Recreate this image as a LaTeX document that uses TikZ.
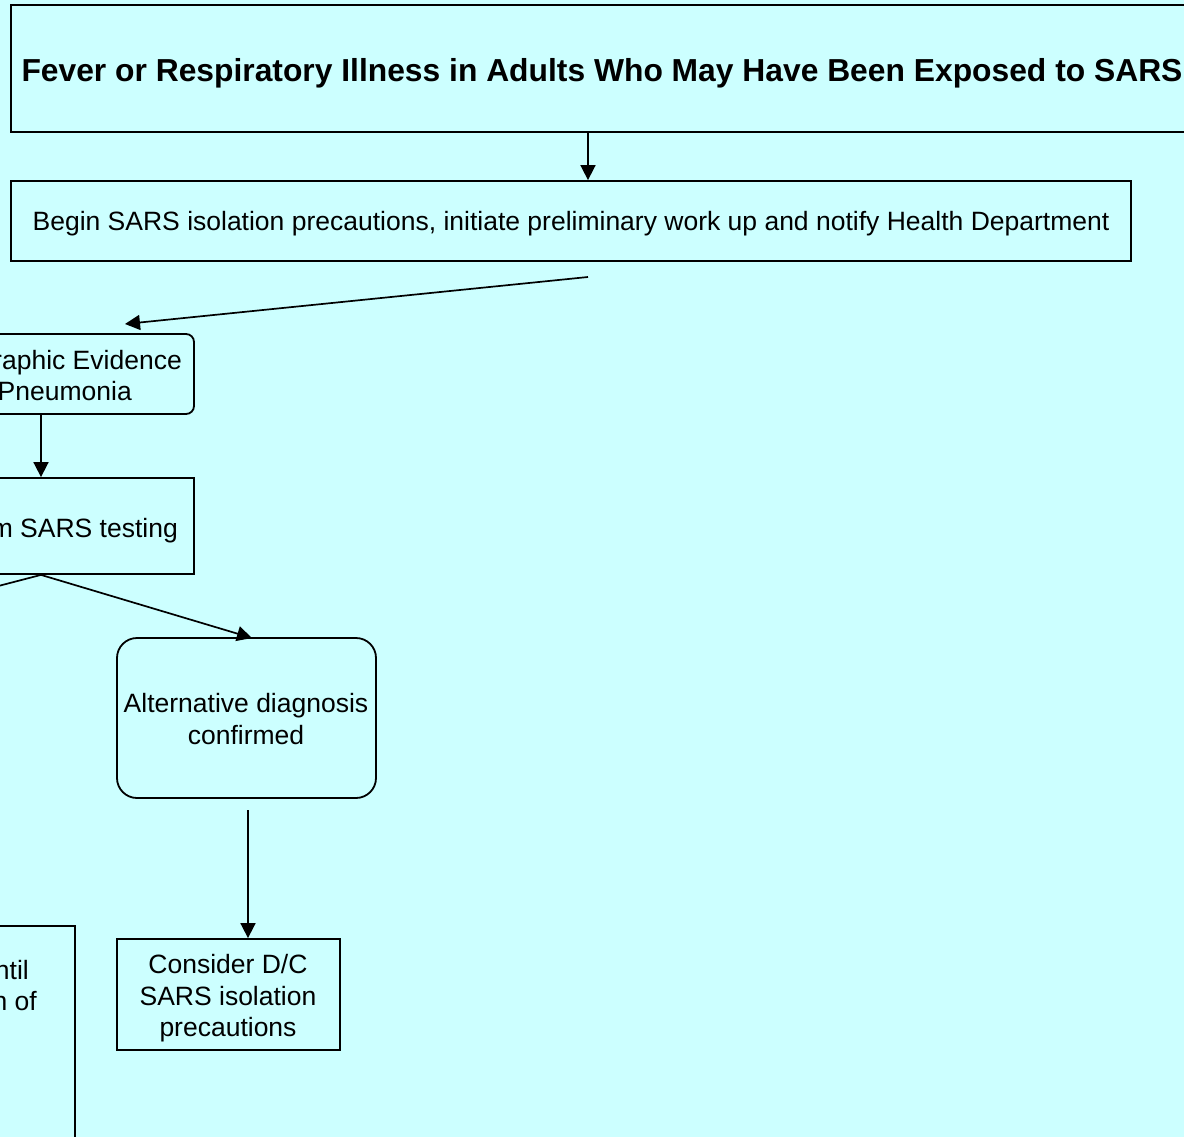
\documentclass[tikz,border=0pt]{standalone}
\usepackage{fontspec}
\setmainfont{Liberation Sans}
\usetikzlibrary{arrows.meta,calc}
\definecolor{bgcyan}{RGB}{204,255,255}
\tikzset{
  box/.style={draw=black,line width=1.8pt,rectangle,inner sep=0pt},
  rbox/.style={box,rounded corners=#1},
  txt/.style={inner sep=0pt,font=\fontsize{26.5}{31}\selectfont},
  arr/.style={line width=1.7pt,-{Triangle[length=15pt,width=15pt]}},
  conn/.style={line width=1.7pt},
}
\begin{document}
\begin{tikzpicture}[x=1pt,y=-1pt]
\fill[bgcyan] (0,0) rectangle (1184,1137);
\useasboundingbox (0,0) rectangle (1184,1137);
\clip (0,0) rectangle (1184,1137);
% boxes
\node[box,minimum width=1182pt,minimum height=127pt] (b1) at (602,68.5) {};
\node[box,minimum width=1120pt,minimum height=80pt] (b2) at (571,221) {};
\node[rbox=8pt,minimum width=306pt,minimum height=80pt] (b3) at (41,374) {};
\node[box,minimum width=306pt,minimum height=96pt] (b4) at (41,526) {};
\node[rbox=20pt,minimum width=259pt,minimum height=160pt] (b5) at (246.5,718) {};
\node[box,minimum width=223pt,minimum height=111pt] (b6) at (228.5,994.5) {};
\node[box,minimum width=275pt,minimum height=300pt] (b7) at (-62.5,1076) {};
% texts
\node[txt,anchor=base,font=\bfseries\fontsize{31.8}{36}\selectfont] (t1) at (602,81.5) {Fever or Respiratory Illness in Adults Who May Have Been Exposed to SARS};
\node[txt,anchor=base] (t2) at (571,230) {Begin SARS isolation precautions, initiate preliminary work up and notify Health Department};
\node[txt,anchor=base east] (t3a) at (182,369) {raphic Evidence};
\node[txt,anchor=base east] (t3b) at (132,400) {Pneumonia};
\node[txt,anchor=base east] (t4) at (178,537) {m SARS testing};
\node[txt,anchor=base] (t5a) at (246,712) {Alternative diagnosis};
\node[txt,anchor=base] (t5b) at (246,744) {confirmed};
\node[txt,anchor=base] (t6a) at (228,973) {Consider D/C};
\node[txt,anchor=base] (t6b) at (228,1005) {SARS isolation};
\node[txt,anchor=base] (t6c) at (228,1036) {precautions};
\node[txt,anchor=base east] (t7a) at (29,979) {ntil};
\node[txt,anchor=base east] (t7b) at (37,1010) {n of};
% connectors
\coordinate (x1) at (588,0);
\draw[arr] (b1.south -| x1) -- (b2.north -| x1);
\coordinate (s2) at (588,277);
\coordinate (e2) at (125,324);
\draw[arr] (s2) -- (e2);
\draw[arr] (b3.south) -- (b4.north);
\coordinate (e4) at (-40,596);
\draw[conn] (b4.south) -- (e4);
\coordinate (e5) at (252,638);
\draw[arr] (b4.south) -- (e5);
\coordinate (s6) at (248,810);
\draw[arr] (s6) -- (b6.north -| s6);
\end{tikzpicture}
\end{document}
